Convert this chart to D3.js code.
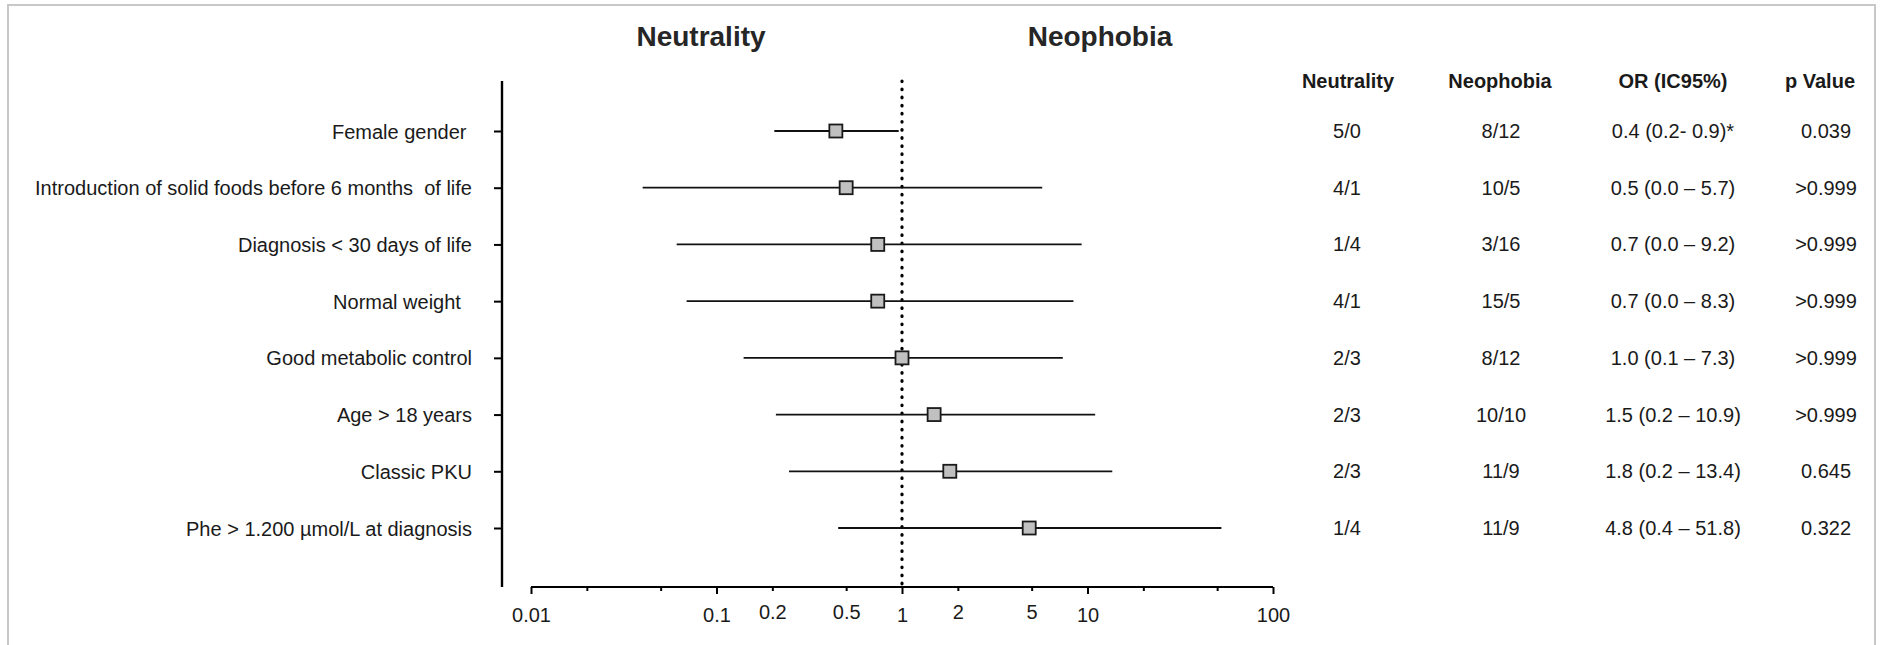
<!DOCTYPE html>
<html>
<head>
<meta charset="utf-8">
<script src="https://cdn.jsdelivr.net/npm/d3@7"></script>
<style>
    body { margin: 0; background: #fff; }
    svg { display: block; font-family: 'Liberation Sans', Arial, sans-serif; }
    .row-lab, .cell { font-size: 20px; fill: #1a1a1a; white-space: pre; }
    .head { font-size: 20px; font-weight: bold; fill: #1a1a1a; }
    .title { font-size: 28px; font-weight: bold; fill: #262626; }
</style>
</head>
<body>
<div id="chart"></div>
<script>
// rows of the forest plot, top to bottom
const factors = [
    'Female gender ',
    'Introduction of solid foods before 6 months  of life',
    'Diagnosis < 30 days of life',
    'Normal weight  ',
    'Good metabolic control',
    'Age > 18 years',
    'Classic PKU',
    'Phe > 1.200 µmol/L at diagnosis'
];

// odds ratio and CI as drawn on the plot
const orValues = [0.44, 0.50, 0.74, 0.74, 1.0, 1.49, 1.81, 4.85];
const ciLow = [0.205, 0.040, 0.061, 0.069, 0.14, 0.209, 0.246, 0.453];
const ciHigh = [0.96, 5.7, 9.3, 8.4, 7.36, 11.0, 13.6, 52.7];

// table on the right
const tableHeads = ['Neutrality', 'Neophobia', 'OR (IC95%)', 'p Value'];
const colNeutrality = ['5/0', '4/1', '1/4', '4/1', '2/3', '2/3', '2/3', '1/4'];
const colNeophobia = ['8/12', '10/5', '3/16', '15/5', '8/12', '10/10', '11/9', '11/9'];
const colOR = ['0.4 (0.2- 0.9)*', '0.5 (0.0 \u2013 5.7)', '0.7 (0.0 \u2013 9.2)', '0.7 (0.0 \u2013 8.3)',
    '1.0 (0.1 \u2013 7.3)', '1.5 (0.2 \u2013 10.9)', '1.8 (0.2 \u2013 13.4)', '4.8 (0.4 \u2013 51.8)'];
const colP = ['0.039', '>0.999', '>0.999', '>0.999', '>0.999', '>0.999', '0.645', '0.322'];

// x axis ticks
const xTicks = [0.01, 0.02, 0.05, 0.1, 0.2, 0.5, 1, 2, 5, 10, 20, 50, 100];
const xMajor = [0.01, 0.1, 1, 10, 100];
const xLabelled = [0.01, 0.1, 0.2, 0.5, 1, 2, 5, 10, 100];

const sideTitles = ['Neutrality', 'Neophobia'];

const W = 1883, H = 645;
const L = { axisX: 502, top: 81, bottom: 587, firstRow: 131, lastRow: 528, xLeft: 531, xRight: 1273 };

const svg = d3.select('#chart').append('svg').attr('width', W).attr('height', H);

// frame
svg.append('rect')
    .attr('x', 8).attr('y', 5)
    .attr('width', 1867).attr('height', 660)
    .attr('fill', 'none')
    .attr('stroke', '#c8c8c8')
    .attr('stroke-width', 2);

const x = d3.scaleLog().domain([0.01, 100]).range([L.xLeft, L.xRight]);
const y = d3.scalePoint().domain(d3.range(factors.length)).range([L.firstRow, L.lastRow]);

// ---------- Y AXIS ----------
const yAxis = d3.axisLeft(y)
    .tickSize(8)
    .tickSizeOuter(0)
    .tickPadding(22)
    .tickFormat(i => factors[i]);

const gy = svg.append('g').attr('transform', `translate(${L.axisX},0)`).call(yAxis);
gy.select('.domain').remove();
gy.selectAll('.tick line').attr('stroke', '#000').attr('stroke-width', 2);
gy.selectAll('.tick text').attr('class', 'row-lab').attr('font-size', null).attr('font-family', null)
    .attr('fill', null).attr('dy', '0.35em');

gy.append('line')
    .attr('x1', 0).attr('x2', 0)
    .attr('y1', L.top).attr('y2', L.bottom)
    .attr('stroke', '#000').attr('stroke-width', 2.4);

// ---------- X AXIS ----------
const xAxis = d3.axisBottom(x)
    .tickValues(xTicks)
    .tickSizeOuter(0)
    .tickSize(7)
    .tickPadding(9)
    .tickFormat(d => xLabelled.includes(d) ? String(d) : '');

const gx = svg.append('g').attr('transform', `translate(0,${L.bottom})`).call(xAxis);
gx.select('.domain').attr('stroke', '#000').attr('stroke-width', 2)
    .attr('d', `M${L.xLeft},0H${L.xRight}`);
gx.selectAll('.tick line')
    .attr('stroke', '#000')
    .attr('stroke-width', 2)
    .attr('y2', d => xMajor.includes(d) ? 7 : 4);
gx.selectAll('.tick text')
    .attr('font-size', 20)
    .attr('font-family', null)
    .attr('fill', '#1a1a1a')
    .attr('y', d => xMajor.includes(d) ? 21 : 18);

// ---------- REFERENCE LINE AT OR = 1 ----------
svg.append('line')
    .attr('x1', x(1)).attr('x2', x(1))
    .attr('y1', L.top).attr('y2', L.bottom)
    .attr('stroke', '#000')
    .attr('stroke-width', 3.2)
    .attr('stroke-linecap', 'round')
    .attr('stroke-dasharray', '0.6 7.5');

// ---------- CI LINES + MARKERS ----------
const rows = factors.map((f, i) => ({ i, or: orValues[i], lo: ciLow[i], hi: ciHigh[i] }));

svg.selectAll('.ci')
    .data(rows)
    .enter()
    .append('line')
    .attr('class', 'ci')
    .attr('x1', d => x(d.lo))
    .attr('x2', d => x(d.hi))
    .attr('y1', d => y(d.i))
    .attr('y2', d => y(d.i))
    .attr('stroke', '#111')
    .attr('stroke-width', 1.8);

const sq = 13;
svg.selectAll('.mark')
    .data(rows)
    .enter()
    .append('rect')
    .attr('class', 'mark')
    .attr('x', d => x(d.or) - sq / 2)
    .attr('y', d => y(d.i) - sq / 2)
    .attr('width', sq)
    .attr('height', sq)
    .attr('fill', '#c0c0c0')
    .attr('stroke', '#1a1a1a')
    .attr('stroke-width', 1.8);

// ---------- TITLES ----------
const titleX = [701, 1100];
svg.selectAll('.title')
    .data(sideTitles)
    .enter()
    .append('text')
    .attr('class', 'title')
    .attr('x', (d, i) => titleX[i])
    .attr('y', 46)
    .attr('text-anchor', 'middle')
    .text(d => d);

// ---------- TABLE ----------
const colX = [1347, 1501, 1673, 1826];
const headX = [1348, 1500, 1673, 1820];
const columns = [colNeutrality, colNeophobia, colOR, colP];

svg.selectAll('.head')
    .data(tableHeads)
    .enter()
    .append('text')
    .attr('class', 'head')
    .attr('x', (d, i) => headX[i])
    .attr('y', 88)
    .attr('text-anchor', 'middle')
    .text(d => d);

columns.forEach((col, c) => {
    svg.selectAll('.cell-' + c)
        .data(col)
        .enter()
        .append('text')
        .attr('class', 'cell cell-' + c)
        .attr('x', colX[c])
        .attr('y', (d, i) => y(i))
        .attr('dy', '0.35em')
        .attr('text-anchor', 'middle')
        .text(d => d);
});
</script>
</body>
</html>
